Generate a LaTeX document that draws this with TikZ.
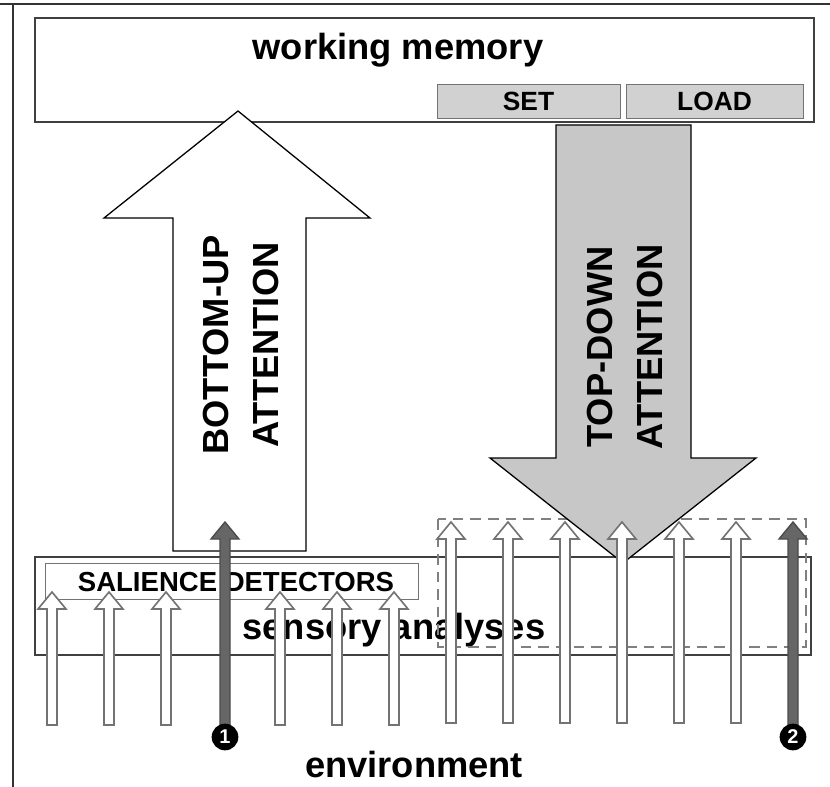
\documentclass[tikz,border=0pt]{standalone}
\usepackage{fontspec}
\setmainfont{Liberation Sans}
\usepackage{tikz}
\usetikzlibrary{positioning}

\begin{document}
\begin{tikzpicture}[
		x=0.03cm, y=-0.03cm,
		font=\bfseries,
		box/.style={draw=black!75, line width=1.1pt},
		graybox/.style={draw=black!55, fill=black!18, line width=0.8pt, inner sep=0pt,
			font=\fontsize{22.5}{22.5}\bfseries\selectfont},
		bigarrow/.style={draw=black, line width=1.1pt, line join=miter},
		biglabel/.style={inner sep=0pt, align=center,
			font=\fontsize{31}{42}\bfseries\selectfont},
		lightarrow/.style={draw=black!55, fill=white, line width=1.4pt},
		darkarrow/.style={draw=black!70, fill=black!60, line width=1.2pt},
		numdot/.style={circle, fill=black, inner sep=0pt, minimum size=0.8cm,
			text=white, font=\fontsize{17}{17}\bfseries\selectfont}]
		\useasboundingbox (0,0) rectangle (830,787);
		% Frame
		\draw[black!80, line width=1pt] (0,4) -- (830,4);
		\draw[black!80, line width=1pt] (13,4) -- (13,787);
		
		% Working memory
		\draw[box] (35,18) rectangle (814,122);
		\node[biglabel] (wm) at (398,50) {working memory};
		\node[graybox, minimum width=5.49cm, minimum height=1.02cm] (set) at (528.5,101) {SET};
		\node[graybox, minimum width=5.31cm, minimum height=1.02cm] (load) at (714.5,101) {LOAD};
		
		% Sensory analyses
		\draw[box] (35,557) rectangle (811,655);
		\draw[draw=black!55, line width=0.8pt] (45,563) rectangle (418,599);
		\node[biglabel, font=\fontsize{23.5}{23.5}\bfseries\selectfont] (sal) at (236,582) {SALIENCE DETECTORS};
		\node[biglabel] (sens) at (394,630) {sensory analyses};
		\draw[black!50, dashed, line width=1.1pt, dash pattern=on 9pt off 6pt] (438,519) rectangle (806,647);
		
		% Bottom-up and top-down
		\draw[bigarrow, fill=white] (173,551) -- (173,218) -- (104,218) -- (238,111)
		-- (370,218) -- (306,218) -- (306,551) -- cycle;
		\node[biglabel, rotate=90] (bu) at (241,345) {BOTTOM-UP\\ATTENTION};
		\draw[bigarrow, fill=black!22] (556,125) -- (691,125) -- (691,458) -- (756,458)
		-- (623,563) -- (490,458) -- (556,458) -- cycle;
		\node[biglabel, rotate=90] (td) at (625,347) {TOP-DOWN\\ATTENTION};
		
		% Small arrows
		\foreach \i [evaluate=\i as \x using 52+57*\i] in {0,1,2,4,5,6}
		\draw[lightarrow] (\x-5,725) -- (\x-5,609) -- (\x-14,609) -- (\x,592)
		-- (\x+14,609) -- (\x+5,609) -- (\x+5,725) -- cycle;
		\foreach \i [evaluate=\i as \x using 52+57*\i] in {7,...,12}
		\draw[lightarrow] (\x-5,723) -- (\x-5,539) -- (\x-14,539) -- (\x,522)
		-- (\x+14,539) -- (\x+5,539) -- (\x+5,723) -- cycle;
		\foreach \x in {225,793}
		\draw[darkarrow] (\x-5,735) -- (\x-5,539) -- (\x-14,539) -- (\x,522)
		-- (\x+14,539) -- (\x+5,539) -- (\x+5,735) -- cycle;
		\node[numdot] (one) at (225,737) {1};
		\node[numdot] (two) at (793,737) {2};
		
		\node[biglabel] (env) at (414,765) {environment};
\end{tikzpicture}
\end{document}
